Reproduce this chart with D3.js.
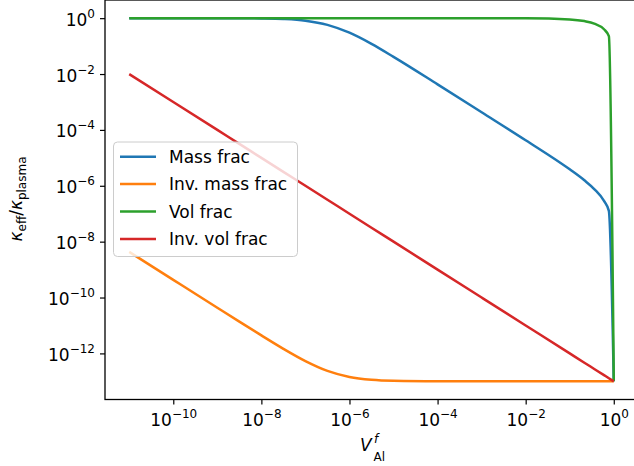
<!DOCTYPE html>
<html>
<head>
<meta charset="utf-8">
<script src="https://cdn.jsdelivr.net/npm/d3@7"></script>
<style>
  body { margin: 0; background: #fff; }
  svg { display: block; font-family: "DejaVu Sans", sans-serif; }
</style>
</head>
<body>
<div id="chart"></div>
<script>
// Volume fraction of Al (x) and the ratio kappa_eff / kappa_plasma for each mixing rule.
var volFrac = [1e-11, 1e-10, 1e-9, 3.16e-9, 1e-8, 3.16e-8, 1e-7, 3.16e-7, 1e-6, 3.16e-6,
               1e-5, 1e-4, 1e-3, 1e-2, 0.1, 0.215, 0.36, 0.6, 0.774, 1];

var massFrac    = [1.0, 0.9998, 0.9977, 0.9927, 0.977, 0.9315, 0.811, 0.576, 0.301, 0.120,
                   0.0412, 4.28e-3, 4.29e-4, 4.26e-5, 3.87e-6, 1.57e-6, 7.65e-7, 2.87e-7, 1.26e-7, 1e-13];
var invMassFrac = [4.30e-9, 4.30e-10, 4.31e-11, 1.37e-11, 4.4e-12, 1.46e-12, 5.3e-13, 2.36e-13, 1.43e-13, 1.136e-13,
                   1.043e-13, 1.004e-13, 1e-13, 1e-13, 1e-13, 1e-13, 1e-13, 1e-13, 1e-13, 1e-13];
var volFracK    = [1, 1, 1, 1, 1, 1, 1, 1, 1, 1,
                   1, 0.9999, 0.999, 0.99, 0.9, 0.785, 0.640, 0.400, 0.226, 1e-13];
var invVolFrac  = [9.9e-3, 9.99e-4, 1e-4, 3.16e-5, 1e-5, 3.16e-6, 1e-6, 3.16e-7, 1e-7, 3.16e-8,
                   1e-8, 1e-9, 1e-10, 1e-11, 1e-12, 4.65e-13, 2.78e-13, 1.67e-13, 1.29e-13, 1e-13];

var seriesNames = ["Mass frac", "Inv. mass frac", "Vol frac", "Inv. vol frac"];
var seriesColors = ["#1f77b4", "#ff7f0e", "#2ca02c", "#d62728"];
var seriesValues = [massFrac, invMassFrac, volFracK, invVolFrac];

var xTicks = [1e-10, 1e-8, 1e-6, 1e-4, 1e-2, 1];
var xTickExp = ["\u221210", "\u22128", "\u22126", "\u22124", "\u22122", "0"];
var yTicks = [1, 1e-2, 1e-4, 1e-6, 1e-8, 1e-10, 1e-12];
var yTickExp = ["0", "\u22122", "\u22124", "\u22126", "\u22128", "\u221210", "\u221212"];

// Figure setup.
var W = 634, H = 466;
var plotLeft = 105, plotRight = 638, plotTop = 0, plotBottom = 399.5;
var fontSize = 17, supSize = 12;

var svg = d3.select("#chart").append("svg")
  .attr("width", W)
  .attr("height", H);

svg.append("rect").attr("width", W).attr("height", H).attr("fill", "#fff");

var xScale = d3.scaleLog()
  .domain([Math.pow(10, -11.55), Math.pow(10, 0.55)])
  .range([plotLeft, plotRight]);

var yScale = d3.scaleLog()
  .domain([Math.pow(10, -13.65), Math.pow(10, 0.65)])
  .range([plotBottom, plotTop]);

// Lines, drawn in matplotlib order so red ends up on top.
var line = d3.line()
  .x(function(d) { return xScale(d[0]); })
  .y(function(d) { return yScale(d[1]); })
  .curve(d3.curveMonotoneX);

var lines = svg.append("g").attr("class", "lines");
seriesValues.forEach(function(vals, i) {
  var pts = volFrac.map(function(v, j) { return [v, vals[j]]; });
  lines.append("path")
    .datum(pts)
    .attr("fill", "none")
    .attr("stroke", seriesColors[i])
    .attr("stroke-width", 2.5)
    .attr("stroke-linejoin", "round")
    .attr("d", line);
});

// Axes.
var xAxis = svg.append("g")
  .attr("transform", "translate(0," + plotBottom + ")")
  .call(d3.axisBottom(xScale).tickValues(xTicks).tickSize(5).tickSizeOuter(0));

var yAxis = svg.append("g")
  .attr("transform", "translate(" + plotLeft + ",0)")
  .call(d3.axisLeft(yScale).tickValues(yTicks).tickSize(5).tickSizeOuter(0));

[xAxis, yAxis].forEach(function(ax) {
  ax.select(".domain").remove();
  ax.selectAll(".tick line").attr("stroke", "#000").attr("stroke-width", 1.2);
  ax.attr("font-family", null).attr("font-size", null);
});

// Replace tick text with 10^n labels.
xAxis.selectAll(".tick text").each(function(d, i) {
  var t = d3.select(this).text(null)
    .attr("y", 26.5).attr("dy", null)
    .attr("text-anchor", "middle")
    .attr("fill", "#000")
    .style("font-size", fontSize + "px");
  t.append("tspan").text("10");
  t.append("tspan").attr("dy", -8).style("font-size", supSize + "px").text(xTickExp[i]);
});

yAxis.selectAll(".tick text").each(function(d, i) {
  var t = d3.select(this).text(null)
    .attr("x", -10).attr("dy", null).attr("y", 7)
    .attr("text-anchor", "end")
    .attr("fill", "#000")
    .style("font-size", fontSize + "px");
  t.append("tspan").text("10");
  t.append("tspan").attr("dy", -8).style("font-size", supSize + "px").text(yTickExp[i]);
});

// Frame.
svg.append("rect")
  .attr("x", plotLeft).attr("y", plotTop)
  .attr("width", plotRight - plotLeft).attr("height", plotBottom - plotTop)
  .attr("fill", "none")
  .attr("stroke", "#000")
  .attr("stroke-width", 1.3);

// Axis titles.
var xl = svg.append("g").style("font-size", fontSize + "px");
xl.append("text").attr("x", 360).attr("y", 451).style("font-style", "italic").text("V");
xl.append("text").attr("x", 374).attr("y", 443).style("font-style", "italic")
  .style("font-size", supSize + "px").text("f");
xl.append("text").attr("x", 373.5).attr("y", 461)
  .style("font-size", supSize + "px").text("Al");

var yl = svg.append("text")
  .attr("transform", "translate(22,199) rotate(-90)")
  .attr("text-anchor", "middle")
  .style("font-size", fontSize + "px");
yl.append("tspan").style("font-style", "italic").text("\u03ba");
yl.append("tspan").attr("dy", 4).style("font-size", supSize + "px").text("eff");
yl.append("tspan").attr("dy", -4).text("/");
yl.append("tspan").style("font-style", "italic").text("\u03ba");
yl.append("tspan").attr("dy", 4).style("font-size", supSize + "px").text("plasma");

// Legend.
var legend = svg.append("g").attr("class", "legend");
legend.append("rect")
  .attr("x", 113.5).attr("y", 142)
  .attr("width", 184).attr("height", 114.5)
  .attr("rx", 4)
  .attr("fill", "#fff").attr("fill-opacity", 0.8)
  .attr("stroke", "#cccccc").attr("stroke-width", 1);

seriesNames.forEach(function(name, i) {
  var cy = 156.7 + i * 27.4;
  legend.append("line")
    .attr("x1", 120).attr("x2", 156)
    .attr("y1", cy).attr("y2", cy)
    .attr("stroke", seriesColors[i])
    .attr("stroke-width", 2.5);
  legend.append("text")
    .attr("x", 169).attr("y", cy + 6.3)
    .style("font-size", fontSize + "px")
    .text(name);
});
</script>
</body>
</html>
